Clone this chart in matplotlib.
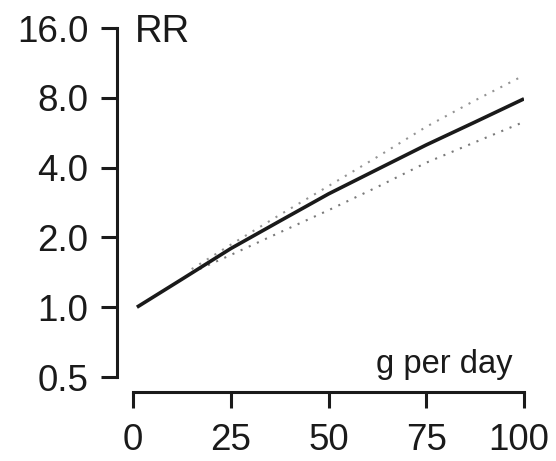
import matplotlib
matplotlib.use("Agg")
import matplotlib.pyplot as plt
import matplotlib.transforms as mtransforms
import numpy as np

plt.rcParams['font.family'] = ['Liberation Sans', 'DejaVu Sans']

# data
dose = [1, 12.5, 25, 37.5, 50, 62.5, 75, 87.5, 100]
rr = [1.0, 1.32, 1.79, 2.35, 3.08, 3.93, 5.01, 6.29, 7.92]
ci_dose = [15, 25, 37.5, 50, 62.5, 75, 87.5, 100]
ci_upper = [1.46, 1.86, 2.50, 3.33, 4.45, 6.0, 7.8, 10.0]
ci_lower = [1.41, 1.68, 2.10, 2.62, 3.30, 4.2, 5.15, 6.3]

xticks = [0, 25, 50, 75, 100]
yticks = [0.5, 1, 2, 4, 8, 16]
ytick_labels = ["0.5", "1.0", "2.0", "4.0", "8.0", "16.0"]

fig = plt.figure(figsize=(5.56, 4.61), dpi=100)
ax = fig.add_axes([133/556, 1-377/461, (524-133)/556, (377-28)/461])

ax.plot(ci_dose, ci_upper, color='0.58', linestyle=(0, (1, 3.3)), linewidth=1.5)
ax.plot(ci_dose, ci_lower, color='0.48', linestyle=(0, (1, 3.3)), linewidth=1.5)
ax.plot(dose, rr, color='#1a1a1a', linewidth=2.6, solid_capstyle='butt',
        solid_joinstyle='round')

ax.set_yscale('log')
ax.set_xlim(0, 100)
ax.set_ylim(0.5, 16)
ax.set_xticks(xticks)
ax.set_xticklabels([str(t) for t in xticks])
ax.set_yticks(yticks)
ax.set_yticklabels(ytick_labels)
ax.yaxis.set_minor_locator(matplotlib.ticker.NullLocator())

for s in ['top', 'right']:
    ax.spines[s].set_visible(False)
for s in ['left', 'bottom']:
    ax.spines[s].set_linewidth(2.2)
    ax.spines[s].set_color('#1a1a1a')
    ax.spines[s].set_capstyle('projecting')
ax.spines['left'].set_position(('outward', 11.5))
ax.spines['bottom'].set_position(('outward', 11))

ax.tick_params(axis='both', length=11.5, width=2.2, color='#1a1a1a',
               labelsize=26.5, labelcolor='#1a1a1a')
ax.tick_params(axis='y', pad=9)
ax.tick_params(axis='x', pad=10.5)

# shift "100" slightly left like the reference
lbl = ax.get_xticklabels()[-1]
lbl.set_transform(lbl.get_transform() + mtransforms.ScaledTranslation(-5/100, 0, fig.dpi_scale_trans))

ax.text(0.6, 15.4, 'RR', ha='left', va='center', fontsize=27.5, color='#1a1a1a')
ax.text(97, 0.52, 'g per day', ha='right', va='baseline', fontsize=23.5, color='#1a1a1a')

fig.savefig('out.png', dpi=100)
